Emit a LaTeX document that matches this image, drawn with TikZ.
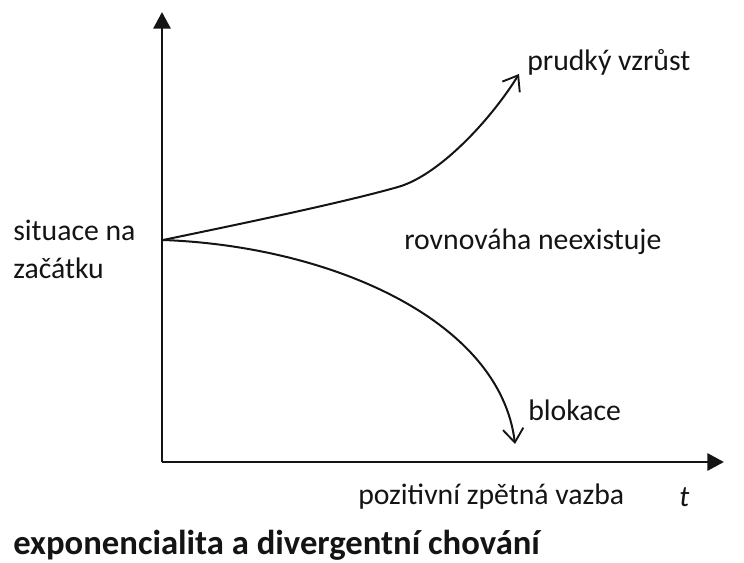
\documentclass[tikz,border=0pt]{standalone}
\usepackage{fontspec}
\setmainfont{Carlito}
\usetikzlibrary{arrows.meta,positioning}
\definecolor{DivInk}{RGB}{20,20,20}
\tikzset{
  div/axis/.style={-{Triangle[length=4.4mm,width=4.5mm]}, line width=2.2pt, draw=DivInk},
  div/curve/.style={-{Straight Barb[length=3.6mm,width=5.4mm,line width=1.4pt]}, line width=1.5pt, draw=DivInk},
  div/label/.style={font=\fontsize{22.3}{28.5}\selectfont, text=DivInk, inner sep=0pt},
  div/title/.style={font=\fontsize{26}{30}\selectfont\bfseries, text=DivInk, inner sep=0pt, anchor=west}
}
\begin{document}
\begin{tikzpicture}[x=0.75pt,y=-0.75pt]
  \useasboundingbox (0,0) rectangle (744,563);
  % axes
  \coordinate (origin) at (162,462);
  \coordinate (ytip) at (162,12);
  \coordinate (xtip) at (724,462);
  \draw[div/axis] (origin) -- (ytip);
  \draw[div/axis] (origin) -- (xtip);
  % the two diverging curves
  \coordinate (start) at (163,240);
  \coordinate (bend) at (398,187);
  \coordinate (upend) at (519,74);
  \coordinate (downend) at (515,444);
  \draw[div/curve] (start) .. controls (250,222) and (345,202) .. (bend)
                           .. controls (440,175) and (492,118) .. (upend);
  \draw[div/curve] (start) .. controls (330,246) and (500,320) .. (downend);
  % labels
  \node[div/label, anchor=west] (growth) at (527,62) {prudký vzrůst};
  \node[div/label, anchor=west] (noeq) at (404,242) {rovnováha neexistuje};
  \node[div/label, anchor=west, align=left] (init) at (13,249) {situace na\\začátku};
  \node[div/label, anchor=west] (block) at (528,410) {blokace};
  \node[div/label, anchor=west] (feedback) at (358,497) {pozitivní zpětná vazba};
  \node[div/label, anchor=west] (time) at (679,497) {\itshape t};
  \node[div/title] (caption) at (13,545) {exponencialita a divergentní chování};
\end{tikzpicture}
\end{document}
